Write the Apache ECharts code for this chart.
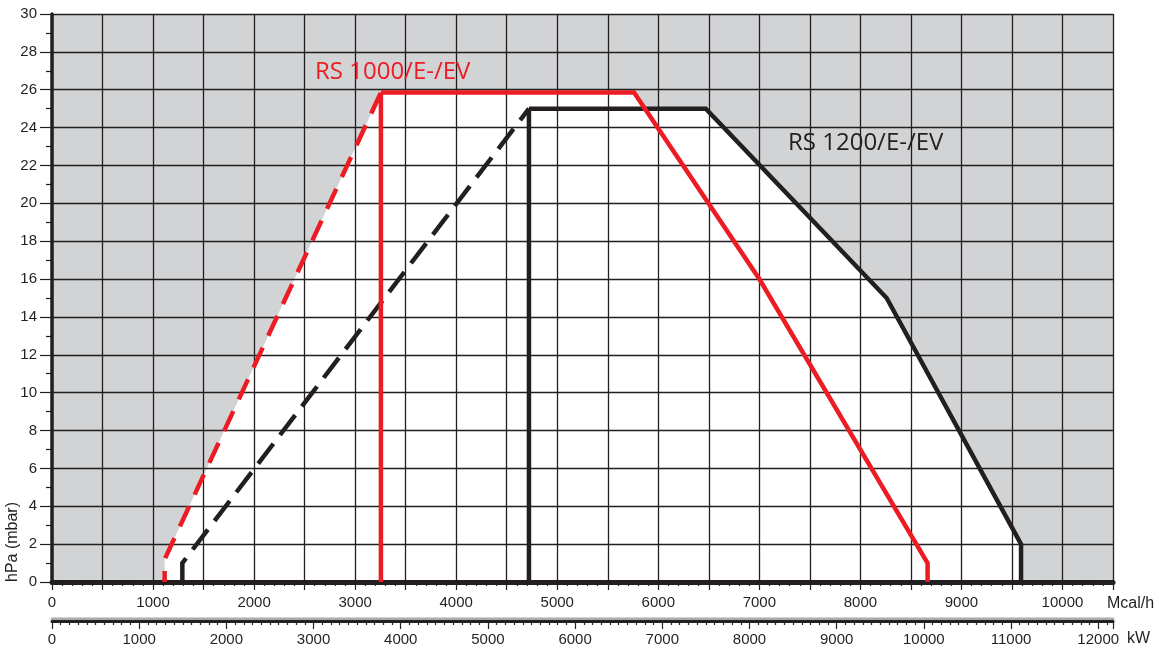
<!DOCTYPE html>
<html>
<head>
<meta charset="utf-8">
<script src="https://cdn.jsdelivr.net/npm/echarts@6/dist/echarts.min.js"></script>
<style>
html,body{margin:0;padding:0;background:#fff;}
#chart{width:1159px;height:652px;}
</style>
</head>
<body>
<div id="chart"></div>
<script>
// ---- data (Mcal/h, hPa) ----
const redName = 'RS 1000/E-/EV';
const blackName = 'RS 1200/E-/EV';
// envelope vertices: start at bottom-left, dashed rising edge, top, falling edge, bottom-right
const redEnvelope = [[1115,0],[1115,1.2],[3255,25.85],[5760,25.85],[7000,16],[8665,1],[8665,0]];
const blackEnvelope = [[1290,0],[1290,1],[4720,25],[6470,25],[8260,15],[9590,2],[9590,0]];
const yTicks = [0,30,2];           // min, max, step (hPa)
const mcalRange = [0,10500,500];   // min, max, split step (Mcal/h)
const kwPerMcal = 1/0.8628;        // kW per Mcal/h
const kwStep = 1000;

const RED = '#ed1c24', BLACK = '#231f20', GRAY = '#d1d3d4';
const FONT = 'Liberation Sans';

const redDashed = redEnvelope.slice(0,3);
const redSolid = redEnvelope.slice(2);
const redVertical = [[redEnvelope[2][0],0], redEnvelope[2]];
const blackDashed = blackEnvelope.slice(0,3);
const blackSolid = blackEnvelope.slice(2);
const blackVertical = [[blackEnvelope[2][0],0], blackEnvelope[2]];

const chart = echarts.init(document.getElementById('chart'), null, {renderer:'canvas'});

function lineSeries(data, color, dash, z, dashOffset){
  return {type:'line', data, symbol:'none', z: z||6, silent:true,
    lineStyle:{color, width:4.5, type: dash || 'solid', dashOffset: dashOffset||0, join:'miter', cap:'butt'}};
}
function areaSeries(data){
  return {type:'line', data, symbol:'none', z:1, silent:true,
    lineStyle:{width:0, opacity:0}, areaStyle:{color:'#ffffff', opacity:1}};
}

chart.setOption({
  animation:false,
  grid:{left:52, right:46, top:14, bottom:70, show:true, backgroundColor:GRAY, borderWidth:0},
  xAxis:[{
    type:'value', min:mcalRange[0], max:mcalRange[1], interval:mcalRange[2], position:'bottom', z:3,
    axisLine:{show:true, onZero:false, lineStyle:{color:BLACK, width:5}},
    axisTick:{show:true, inside:false, length:8, lineStyle:{color:BLACK, width:1.2}},
    minorTick:{show:true, splitNumber:5, length:4, lineStyle:{color:BLACK, width:1.2}},
    splitLine:{show:true, lineStyle:{color:BLACK, width:1.3}},
    axisLabel:{margin:13, fontFamily:FONT, fontSize:15, color:BLACK,
      formatter:v => (v % 1000 === 0 ? String(v) : '')}
  },{
    type:'value', min:0, max:mcalRange[1]*kwPerMcal, interval:kwStep, position:'bottom', offset:39, z:3,
    axisLine:{show:true, onZero:false, lineStyle:{color:BLACK, width:3, shadowColor:'#a7a9ac', shadowOffsetY:-2.5, shadowBlur:0}},
    axisTick:{show:true, inside:false, length:8, lineStyle:{color:BLACK, width:1.2}},
    minorTick:{show:true, splitNumber:10, length:4, lineStyle:{color:BLACK, width:1.2}},
    splitLine:{show:false},
    axisLabel:{margin:11, fontFamily:FONT, fontSize:15, color:BLACK, showMaxLabel:false,
      formatter:v => (Math.abs(v % 1000) < 1e-6 ? String(v) : '')}
  }],
  yAxis:{
    type:'value', min:yTicks[0], max:yTicks[1], interval:yTicks[2], z:3,
    axisLine:{show:true, onZero:false, lineStyle:{color:BLACK, width:3.5}},
    axisTick:{show:true, inside:false, length:12, lineStyle:{color:BLACK, width:1.2}},
    minorTick:{show:true, splitNumber:2, length:6, lineStyle:{color:BLACK, width:1.2}},
    splitLine:{show:true, lineStyle:{color:BLACK, width:1.3}},
    axisLabel:{margin:15, fontFamily:FONT, fontSize:15, color:BLACK}
  },
  series:[
    areaSeries(redEnvelope),
    areaSeries(blackEnvelope),
    lineSeries(blackDashed, BLACK, [25,11]),
    lineSeries(blackVertical, BLACK),
    lineSeries(blackSolid, BLACK),
    lineSeries(redDashed, RED, [22,13], 7, 11),
    lineSeries(redVertical, RED, null, 7),
    lineSeries(redSolid, RED, null, 7)
  ],
  graphic:[
    {type:'text', left:315, top:60, z:20, style:{text:redName, fill:RED, font:'24px "Open Sans"'}},
    {type:'text', left:788, top:131, z:20, style:{text:blackName, fill:BLACK, font:'24px "Open Sans"'}},
    {type:'text', x:13, y:542, rotation:Math.PI/2, z:20,
      style:{text:'hPa (mbar)', fill:BLACK, font:'16px "Liberation Sans"', align:'center', verticalAlign:'middle'}},
    {type:'text', left:1107, top:596, z:20, style:{text:'Mcal/h', fill:BLACK, font:'16px "Liberation Sans"'}},
    {type:'text', left:1127, top:631, z:20, style:{text:'kW', fill:BLACK, font:'16px "Liberation Sans"'}}
  ]
});
</script>
</body>
</html>
